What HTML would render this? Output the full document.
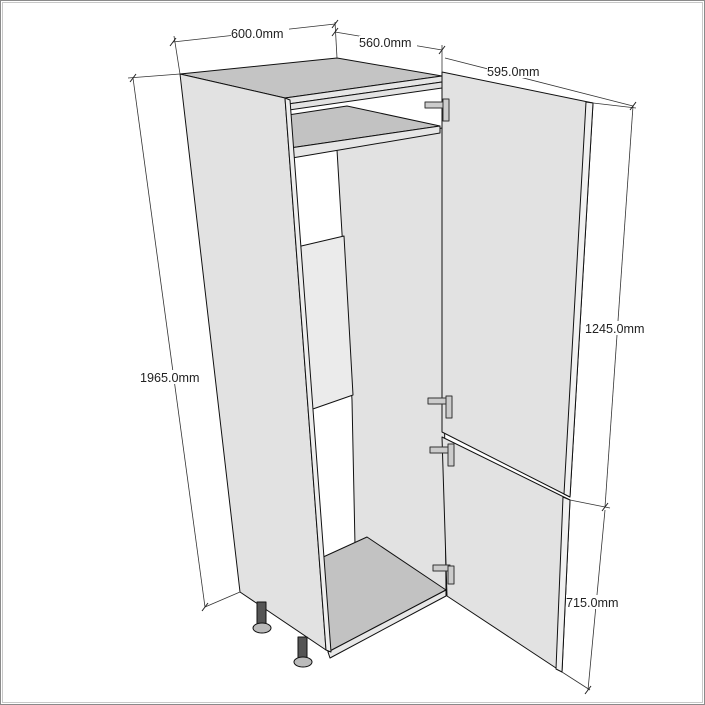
<!DOCTYPE html>
<html><head><meta charset="utf-8"><style>
html,body{margin:0;padding:0;background:#fff}
svg{display:block}
text{font-family:"Liberation Sans",sans-serif;font-size:12.6px;fill:#222}
</style></head><body>
<svg width="705" height="705" viewBox="0 0 705 705" xmlns="http://www.w3.org/2000/svg">
<rect x="0.5" y="0.5" width="704" height="704" fill="#fff" stroke="#8a8a8a"/>
<rect x="2.5" y="2.5" width="700" height="700" fill="none" stroke="#c8c8c8"/>
<g stroke="#111" stroke-width="1" stroke-linejoin="round">
<polygon points="337,150 442,128 446,590 355,545 352,400" fill="#e2e2e2"/>
<polygon points="297,247 344,236 353,395 310,410" fill="#ebebeb"/>
<polygon points="321,558 367,537 446,590 328,652" fill="#c2c2c2"/>
<polygon points="328,652 446,590 446,596 330,658" fill="#e8e8e8"/>
<polygon points="180,74 337,58 442,76 285,98" fill="#c4c4c4"/>
<polygon points="285,98 442,76 442,82 288,104" fill="#e6e6e6"/>
<polygon points="288,104 442,82 442,88 289,110" fill="#e2e2e2"/>
<polygon points="288,115 347,106 440,126 290,148" fill="#c2c2c2"/>
<polygon points="290,148 440,126 440,133 292,158" fill="#e6e6e6"/>
<polygon points="180,74 285,98 326,650 240,592" fill="#e2e2e2"/>
<polygon points="285,98 290,100 331,652 326,650" fill="#ededed"/>
<polygon points="442,72 593,103 570,497 442,432" fill="#e2e2e2"/>
<polygon points="586,102 593,103 570,497 564,494" fill="#f0f0f0"/>
<polygon points="442,437 570,500 562,672 447,596" fill="#e2e2e2"/>
<polygon points="563,497 570,500 562,672 556,669" fill="#f0f0f0"/>
<g fill="#555"><rect x="257" y="602" width="9" height="24"/><rect x="298" y="637" width="9" height="24"/></g>
<g fill="#bbb"><ellipse cx="262" cy="628" rx="9" ry="5"/><ellipse cx="303" cy="662" rx="9" ry="5"/></g>
<g fill="#ccc" stroke="#333">
<rect x="425" y="102" width="20" height="6"/><rect x="443" y="99" width="6" height="22"/>
<rect x="428" y="398" width="20" height="6"/><rect x="446" y="396" width="6" height="22"/>
<rect x="430" y="447" width="20" height="6"/><rect x="448" y="444" width="6" height="22"/>
<rect x="433" y="565" width="17" height="6"/><rect x="448" y="566" width="6" height="18"/>
</g>
</g>
<g stroke="#333" stroke-width="0.8" fill="none">
<line x1="173" y1="42" x2="335" y2="24"/>
<line x1="174" y1="36" x2="180" y2="74"/><line x1="335" y1="22" x2="337" y2="58"/>
<line x1="335" y1="32" x2="442" y2="50"/><line x1="442" y1="45" x2="442" y2="72"/>
<line x1="445" y1="58" x2="633" y2="106"/><line x1="593" y1="103" x2="636" y2="108"/>
<line x1="133" y1="78" x2="205" y2="607"/>
<line x1="128" y1="78" x2="180" y2="74"/><line x1="205" y1="607" x2="240" y2="592"/>
<line x1="633" y1="106" x2="605" y2="507"/>
<line x1="570" y1="500" x2="610" y2="508"/>
<line x1="605" y1="510" x2="588" y2="690"/>
<line x1="562" y1="672" x2="590" y2="690"/>
</g>
<g stroke="#222" stroke-width="1">
<line x1="170" y1="46" x2="176" y2="38"/><line x1="332" y1="28" x2="338" y2="20"/>
<line x1="332" y1="36" x2="338" y2="28"/><line x1="439" y1="54" x2="445" y2="46"/>
<line x1="130" y1="82" x2="136" y2="74"/><line x1="202" y1="611" x2="208" y2="603"/>
<line x1="630" y1="110" x2="636" y2="102"/><line x1="602" y1="511" x2="608" y2="503"/>
<line x1="585" y1="694" x2="591" y2="686"/>
</g>
<g>
<rect x="231" y="26" width="58" height="14" fill="#fff"/><text x="231" y="38">600.0mm</text>
<rect x="359" y="36" width="58" height="14" fill="#fff"/><text x="359" y="47">560.0mm</text>
<rect x="487" y="64" width="60" height="14" fill="#fff"/><text x="487" y="76">595.0mm</text>
<rect x="140" y="370" width="66" height="14" fill="#fff"/><text x="140" y="382">1965.0mm</text>
<rect x="584" y="321" width="66" height="14" fill="#fff"/><text x="585" y="333">1245.0mm</text>
<rect x="566" y="595" width="58" height="14" fill="#fff"/><text x="566" y="607">715.0mm</text>
</g>
</svg>
</body></html>
